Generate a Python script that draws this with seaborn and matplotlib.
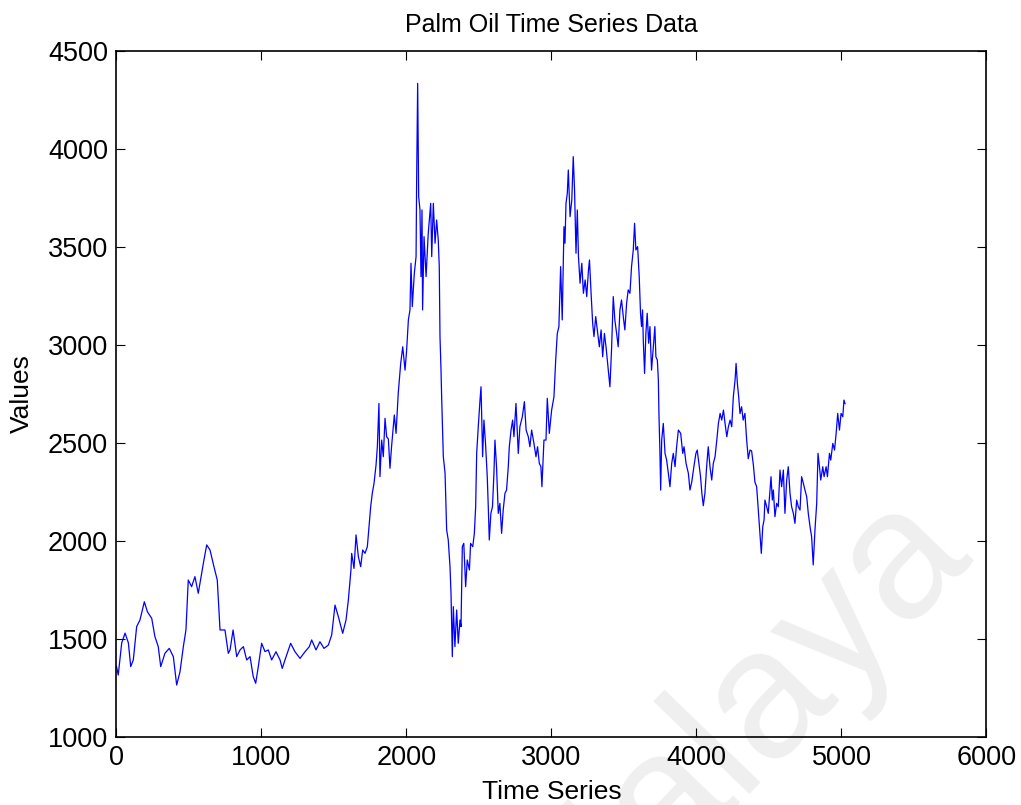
import numpy as np
import pandas as pd
import seaborn as sns
import matplotlib
matplotlib.use('Agg')
import matplotlib.pyplot as plt

# values (index along the series, price)
idx = [0, 12, 36, 59, 82, 98, 116, 139, 162, 192, 213, 243, 265, 288, 305, 334, 364, 392, 415, 438,
       461, 479, 495, 518, 541, 564, 599, 622, 645, 672, 695, 714, 748, 771, 783, 804, 829, 852, 875, 898,
       921, 943, 960, 978, 1001, 1024, 1047, 1070, 1100, 1128, 1143, 1162, 1201, 1231, 1266, 1300, 1330, 1346, 1376, 1403,
       1431, 1461, 1484, 1507, 1530, 1560, 1583, 1599, 1617, 1622, 1638, 1652, 1668, 1684, 1698, 1714, 1730, 1743, 1753, 1764,
       1776, 1790, 1799, 1810, 1817, 1829, 1840, 1852, 1863, 1875, 1886, 1898, 1916, 1928, 1943, 1960, 1974, 1990, 2001, 2013,
       2024, 2031, 2040, 2054, 2066, 2070, 2077, 2084, 2093, 2100, 2107, 2111, 2121, 2135, 2150, 2167, 2174, 2185, 2197, 2208,
       2219, 2226, 2231, 2238, 2243, 2254, 2266, 2277, 2288, 2300, 2307, 2316, 2323, 2334, 2346, 2357, 2369, 2376, 2385, 2395,
       2408, 2419, 2434, 2442, 2457, 2468, 2477, 2484, 2495, 2507, 2514, 2525, 2534, 2545, 2557, 2564, 2571, 2582, 2593, 2603,
       2610, 2621, 2633, 2644, 2656, 2667, 2679, 2690, 2702, 2709, 2721, 2732, 2741, 2755, 2771, 2782, 2799, 2813, 2825, 2840,
       2851, 2863, 2879, 2893, 2904, 2916, 2927, 2934, 2948, 2962, 2971, 2985, 3001, 3017, 3029, 3040, 3051, 3063, 3074, 3086,
       3093, 3100, 3109, 3116, 3128, 3140, 3150, 3159, 3169, 3178, 3186, 3197, 3209, 3220, 3232, 3243, 3255, 3262, 3273, 3284,
       3293, 3305, 3316, 3330, 3342, 3353, 3365, 3376, 3392, 3403, 3414, 3426, 3437, 3449, 3460, 3472, 3483, 3495, 3506, 3518,
       3529, 3541, 3552, 3564, 3573, 3582, 3594, 3605, 3614, 3621, 3628, 3633, 3642, 3651, 3660, 3670, 3679, 3690, 3702, 3713,
       3720, 3730, 3737, 3741, 3748, 3753, 3760, 3771, 3783, 3794, 3806, 3817, 3829, 3840, 3852, 3863, 3875, 3891, 3905, 3914,
       3928, 3944, 3955, 3967, 3982, 3996, 4005, 4019, 4028, 4037, 4047, 4058, 4070, 4081, 4093, 4105, 4116, 4128, 4140, 4151,
       4163, 4174, 4186, 4197, 4209, 4220, 4232, 4243, 4254, 4266, 4273, 4282, 4291, 4300, 4311, 4322, 4334, 4346, 4357, 4369,
       4380, 4392, 4403, 4415, 4426, 4438, 4447, 4457, 4466, 4472, 4484, 4495, 4507, 4514, 4523, 4530, 4541, 4553, 4564, 4576,
       4587, 4599, 4610, 4622, 4633, 4645, 4656, 4668, 4679, 4691, 4702, 4714, 4725, 4737, 4748, 4760, 4771, 4783, 4794, 4805,
       4817, 4829, 4838, 4848, 4857, 4871, 4880, 4894, 4903, 4917, 4926, 4940, 4952, 4963, 4974, 4986, 4997, 5009, 5017, 5025]
price = [1360, 1316, 1480, 1530, 1480, 1359, 1393, 1563, 1597, 1690, 1639, 1605, 1512, 1461, 1359, 1427, 1452, 1410, 1265, 1333,
         1461, 1546, 1801, 1767, 1818, 1733, 1886, 1980, 1954, 1869, 1801, 1546, 1546, 1427, 1444, 1546, 1410, 1444, 1461, 1393,
         1410, 1308, 1274, 1359, 1478, 1436, 1444, 1393, 1435, 1393, 1350, 1393, 1478, 1435, 1401, 1435, 1461, 1495, 1444, 1486,
         1452, 1469, 1520, 1673, 1614, 1529, 1597, 1699, 1852, 1937, 1860, 2031, 1920, 1869, 1954, 1937, 1971, 2090, 2175, 2243,
         2294, 2388, 2481, 2702, 2328, 2515, 2430, 2626, 2532, 2520, 2371, 2490, 2643, 2549, 2753, 2906, 2991, 2872, 2974, 3128,
         3179, 3417, 3196, 3366, 3451, 3842, 4335, 3757, 3689, 3349, 3689, 3179, 3553, 3349, 3570, 3723, 3451, 3723, 3519, 3638,
         3536, 3400, 3043, 2872, 2719, 2430, 2345, 2056, 2005, 1869, 1733, 1410, 1665, 1461, 1648, 1478, 1597, 1563, 1971, 1988,
         1767, 1903, 1852, 1988, 1971, 2039, 2175, 2447, 2583, 2719, 2787, 2430, 2617, 2498, 2328, 2175, 2005, 2141, 2175, 2345,
         2515, 2379, 2141, 2192, 2039, 2158, 2243, 2260, 2379, 2481, 2566, 2617, 2532, 2702, 2447, 2583, 2634, 2711, 2566, 2532,
         2481, 2566, 2498, 2430, 2481, 2396, 2379, 2277, 2515, 2515, 2728, 2549, 2668, 2736, 2923, 3059, 3093, 3400, 3128, 3604,
         3519, 3723, 3774, 3893, 3655, 3740, 3961, 3791, 3468, 3689, 3451, 3315, 3417, 3264, 3332, 3247, 3383, 3434, 3264, 3110,
         3043, 3145, 3077, 2991, 3077, 2940, 3059, 2991, 2872, 2787, 2974, 3247, 3128, 3060, 2991, 3179, 3230, 3145, 3077, 3213,
         3281, 3264, 3400, 3485, 3621, 3485, 3502, 3349, 3162, 3094, 3179, 3026, 2855, 3060, 3162, 3009, 3094, 2872, 2991, 3094,
         2940, 2923, 2821, 2651, 2447, 2260, 2515, 2600, 2447, 2413, 2345, 2277, 2396, 2447, 2379, 2481, 2566, 2549, 2447, 2481,
         2396, 2345, 2260, 2300, 2379, 2447, 2464, 2379, 2328, 2243, 2180, 2243, 2379, 2481, 2379, 2311, 2396, 2430, 2515, 2600,
         2651, 2617, 2668, 2600, 2532, 2583, 2617, 2583, 2736, 2821, 2906, 2804, 2736, 2650, 2685, 2617, 2651, 2515, 2420, 2464,
         2460, 2390, 2300, 2277, 2158, 2022, 1937, 2073, 2107, 2209, 2175, 2141, 2260, 2328, 2209, 2260, 2124, 2192, 2175, 2362,
         2277, 2362, 2141, 2311, 2379, 2243, 2175, 2141, 2090, 2209, 2175, 2158, 2328, 2294, 2260, 2226, 2141, 2073, 2022, 1878,
         2056, 2192, 2447, 2379, 2311, 2379, 2328, 2379, 2328, 2447, 2413, 2498, 2464, 2549, 2651, 2566, 2651, 2634, 2719, 2700]

xticks = [0, 1000, 2000, 3000, 4000, 5000, 6000]
yticks = [1000, 1500, 2000, 2500, 3000, 3500, 4000, 4500]

df = pd.DataFrame({'Time Series': idx, 'Values': price})

sns.set_style('ticks')
plt.rcParams['font.family'] = ['Liberation Sans', 'DejaVu Sans']
plt.rcParams['text.color'] = 'black'
plt.rcParams['axes.labelcolor'] = 'black'

fig = plt.figure(figsize=(10.21, 8.05), dpi=100, facecolor='white')
ax = fig.add_axes([0.1141, 0.0845, 0.8521, 0.8521])
ax.set_facecolor('none')

sns.lineplot(data=df, x='Time Series', y='Values', ax=ax, color='#0000ff',
             linewidth=0.9, estimator=None, sort=False)

ax.set_xlim(0, 6000)
ax.set_ylim(1000, 4500)
ax.set_xticks(xticks)
ax.set_yticks(yticks)
ax.tick_params(direction='in', length=6.5, width=0.8, labelsize=19.5,
               top=True, right=True, pad=6, colors='black')
for s in ax.spines.values():
    s.set_visible(True)
    s.set_linewidth(1.2)
    s.set_color('black')
ax.set_title('Palm Oil Time Series Data', fontsize=18, pad=14, color='black')
ax.set_xlabel('Time Series', fontsize=19, labelpad=6)
ax.set_ylabel('Values', fontsize=19, labelpad=10)

# faint watermark behind the axes (cut off by the figure edge, as in the source)
fig.text(560 / 1021, 1 - 975 / 805, 'Malaya', fontsize=132, color='#efefef',
         rotation=46, rotation_mode='anchor', ha='left', va='baseline', zorder=-1)

fig.savefig('out.png', dpi=100, facecolor='white')
